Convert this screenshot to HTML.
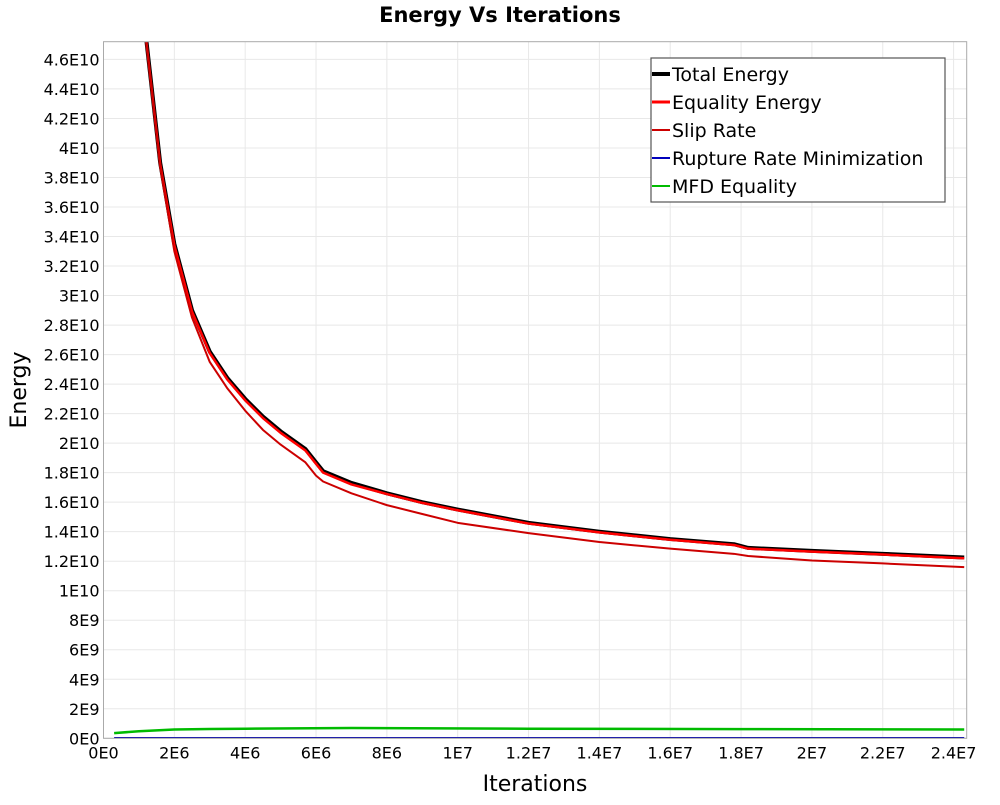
<!DOCTYPE html>
<html><head><meta charset="utf-8"><style>
body{margin:0;background:#fff;}
svg text{font-family:"DejaVu Sans","Liberation Sans",sans-serif;}
</style></head><body>
<svg width="1000" height="800" xmlns="http://www.w3.org/2000/svg">
<text x="500" y="22" text-anchor="middle" font-size="21" font-weight="bold">Energy Vs Iterations</text>
<g id="grid"></g>
<g id="axes"></g>
<g id="series"></g>
<rect x="103.5" y="41.7" width="863.2" height="696.6" fill="none" stroke="#aaa"/>
<text x="535" y="791" text-anchor="middle" font-size="22">Iterations</text>
<text transform="translate(26,390) rotate(-90)" text-anchor="middle" font-size="22">Energy</text>
<g>
<rect x="651" y="58" width="294" height="144" fill="#fff" stroke="#555" stroke-width="1.2"/>
<g id="legend-items"></g>
</g>
</svg>
<script>
const xTicks=[0,2e6,4e6,6e6,8e6,1e7,1.2e7,1.4e7,1.6e7,1.8e7,2e7,2.2e7,2.4e7];
const xTickLabels=["0E0","2E6","4E6","6E6","8E6","1E7","1.2E7","1.4E7","1.6E7","1.8E7","2E7","2.2E7","2.4E7"];
const yTickLabels=["0E0","2E9","4E9","6E9","8E9","1E10","1.2E10","1.4E10","1.6E10","1.8E10","2E10","2.2E10","2.4E10","2.6E10","2.8E10","3E10","3.2E10","3.4E10","3.6E10","3.8E10","4E10","4.2E10","4.4E10","4.6E10"];
const yTicks=yTickLabels.map((s,i)=>i*2e9);
const totalX=[1.2e6,1.6e6,2e6,2.5e6,3e6,3.5e6,4e6,4.5e6,5e6,5.7e6,6e6,6.2e6,7e6,8e6,9e6,1e7,1.2e7,1.4e7,1.6e7,1.78e7,1.82e7,2e7,2.2e7,2.43e7];
const totalY=[4.75e10,3.9e10,3.35e10,2.9e10,2.62e10,2.44e10,2.3e10,2.18e10,2.08e10,1.96e10,1.87e10,1.81e10,1.73e10,1.66e10,1.6e10,1.55e10,1.46e10,1.4e10,1.35e10,1.315e10,1.29e10,1.27e10,1.25e10,1.225e10];
const equalityY=[4.74e10,3.89e10,3.34e10,2.89e10,2.61e10,2.43e10,2.29e10,2.17e10,2.07e10,1.95e10,1.86e10,1.8e10,1.72e10,1.655e10,1.595e10,1.545e10,1.455e10,1.395e10,1.345e10,1.31e10,1.285e10,1.265e10,1.245e10,1.22e10];
const slipY=[4.74e10,3.87e10,3.3e10,2.85e10,2.55e10,2.37e10,2.22e10,2.09e10,1.99e10,1.87e10,1.78e10,1.74e10,1.66e10,1.58e10,1.52e10,1.46e10,1.39e10,1.33e10,1.285e10,1.25e10,1.235e10,1.205e10,1.185e10,1.16e10];
const mfdX=[3e5,1e6,2e6,3e6,4e6,7e6,1.2e7,1.8e7,2.43e7];
const mfdY=[3.5e8,4.8e8,6e8,6.3e8,6.5e8,7e8,6.5e8,6.2e8,6e8];
const ruptY=[2e7,2e7,2e7,2e7,2e7,2e7,2e7,2e7,2e7];
const X0=103.5,X1=966.7,Y0=738.3,Y1=41.7,XMAX=2.437e7,YMAX=4.72e10;
const sx=v=>X0+v/XMAX*(X1-X0), sy=v=>Y0-v/YMAX*(Y0-Y1);
const NS="http://www.w3.org/2000/svg";
function mk(t,a,p){const e=document.createElementNS(NS,t);for(const k in a)e.setAttribute(k,a[k]);p.appendChild(e);return e;}
const grid=document.getElementById('grid'),axes=document.getElementById('axes'),ser=document.getElementById('series');
xTicks.forEach((v,i)=>{const l=mk('line',{x1:sx(v),x2:sx(v),y1:Y1,y2:Y0,stroke:'#e8e8e8'},grid);

const t=mk('text',{x:sx(v),y:Y0+20,'text-anchor':'middle','font-size':16},axes);t.textContent=xTickLabels[i];
});
yTicks.forEach((v,i)=>{const l=mk('line',{x1:X0,x2:X1,y1:sy(v),y2:sy(v),stroke:'#e8e8e8'},grid);

const t=mk('text',{x:X0-4,y:sy(v)+6,'text-anchor':'end','font-size':16},axes);t.textContent=yTickLabels[i];
});
const cp=mk('clipPath',{id:'clip'},ser);mk('rect',{x:X0,y:Y1,width:X1-X0,height:Y0-Y1},cp);
function line(xs,ys,color,w,name){const p=mk('polyline',{points:xs.map((x,i)=>sx(x)+','+sy(ys[i])).join(' '),fill:'none',stroke:color,'stroke-width':w,'clip-path':'url(#clip)','stroke-linejoin':'round'},ser);
}
line(totalX,totalY,'#000',4,'total-energy-line');
line(totalX,equalityY,'#f00',2.5,'equality-energy-line');
line(totalX,slipY,'#c00',2,'slip-rate-line');
line(mfdX,ruptY,'#00a',2,'rupture-rate-line');
line(mfdX,mfdY,'#0b0',2.5,'mfd-equality-line');
const leg=document.getElementById('legend-items');
[["Total Energy","#000",4],["Equality Energy","#f00",3],["Slip Rate","#c00",2],["Rupture Rate Minimization","#00b",2],["MFD Equality","#0b0",2]].forEach((d,i)=>{
const y=74+i*28;const l=mk('line',{x1:652,x2:670,y1:y,y2:y,stroke:d[1],'stroke-width':d[2]},leg);

const t=mk('text',{x:672,y:y+7,'font-size':19},leg);t.textContent=d[0];
});
</script>
</body></html>
